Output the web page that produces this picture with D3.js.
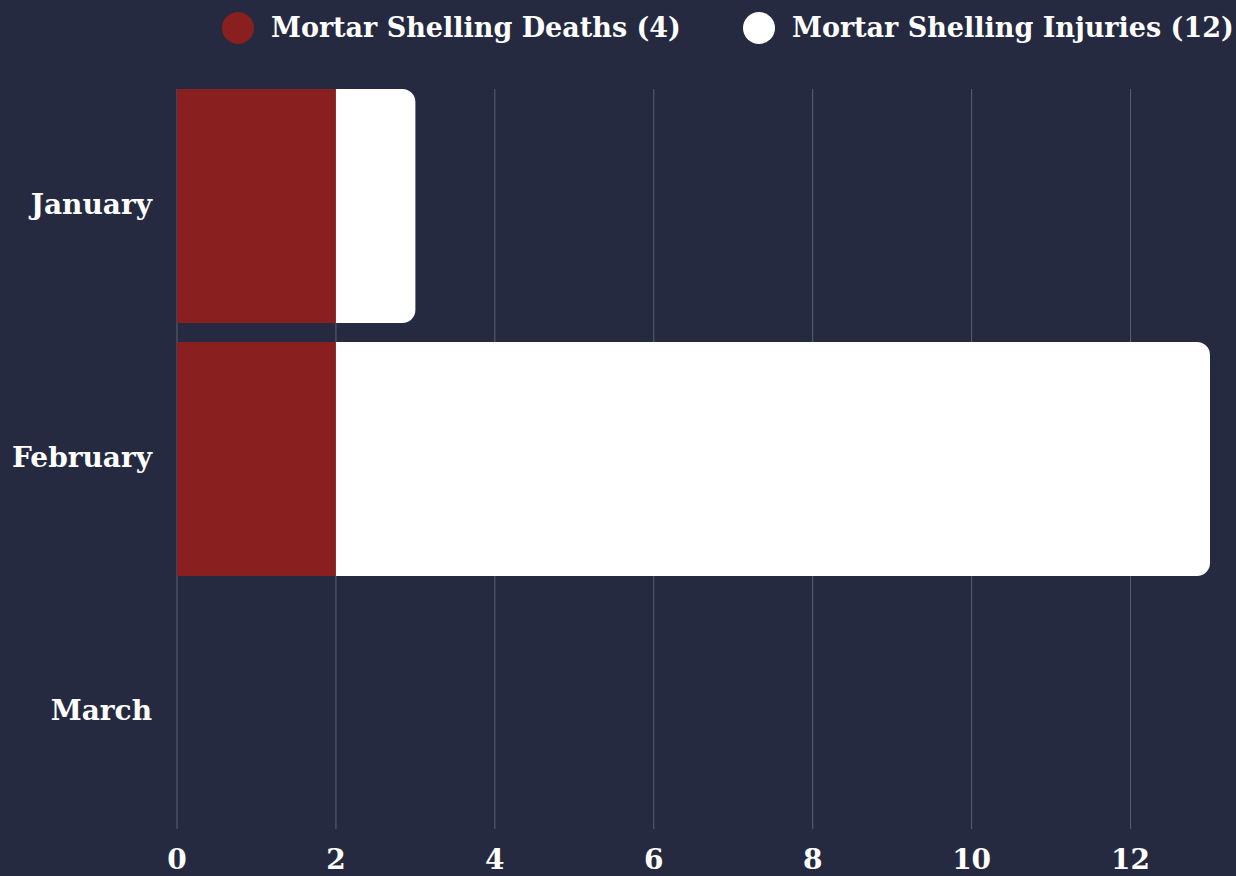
<!DOCTYPE html>
<html>
<head>
<meta charset="utf-8">
<style>
  body { margin: 0; background: #252a41; }
  svg { display: block; }
  text { font-family: "DejaVu Serif", serif; font-weight: bold; fill: #fff; }
</style>
</head>
<body>
<svg width="1236" height="876"></svg>
<script src="https://cdn.jsdelivr.net/npm/d3@7"></script>
<script>
// data
var months = ["January", "February", "March"];
var deaths = [2, 2, 0];
var injuries = [1, 11, 0];
var seriesNames = ["Mortar Shelling Deaths", "Mortar Shelling Injuries"];
var seriesColors = ["#8a1f1f", "#ffffff"];
var xTicks = [0, 2, 4, 6, 8, 10, 12];

var svg = d3.select("svg"),
    margin = {top: 89, right: 26, bottom: 47, left: 177},
    width = +svg.attr("width") - margin.left - margin.right,
    height = +svg.attr("height") - margin.top - margin.bottom,
    g = svg.append("g").attr("transform", "translate(" + margin.left + "," + margin.top + ")");

var data = months.map(function(m, i) {
  return {month: m, deaths: deaths[i], injuries: injuries[i]};
});

var x = d3.scaleLinear()
    .domain([0, 13])
    .range([0, width]);

var y = d3.scaleBand()
    .domain(months)
    .range([0, height])
    .paddingInner(0.075)
    .paddingOuter(0);

// grid
g.append("g")
    .selectAll("line")
    .data(xTicks)
    .enter().append("line")
      .attr("x1", function(d) { return x(d); })
      .attr("x2", function(d) { return x(d); })
      .attr("y1", 0)
      .attr("y2", height)
      .attr("stroke", "#5a6075")
      .attr("stroke-width", 1);

var stack = d3.stack().keys(["deaths", "injuries"]);
var series = stack(data);

// right end rounded only for the last segment of each bar
function barPath(x0, x1, y0, h, r) {
  var w = x1 - x0;
  r = Math.min(r, w, h / 2);
  if (r <= 0) return "M" + x0 + "," + y0 + "h" + w + "v" + h + "h" + (-w) + "Z";
  return "M" + x0 + "," + y0 +
    "H" + (x1 - r) +
    "A" + r + "," + r + " 0 0 1 " + x1 + "," + (y0 + r) +
    "V" + (y0 + h - r) +
    "A" + r + "," + r + " 0 0 1 " + (x1 - r) + "," + (y0 + h) +
    "H" + x0 + "Z";
}

series.forEach(function(s, si) {
  g.append("g")
    .attr("fill", seriesColors[si])
    .selectAll("path")
    .data(s.filter(function(d) { return d[1] > d[0]; }))
    .enter().append("path")
      .attr("d", function(d) {
        var last = si === series.length - 1;
        return barPath(x(d[0]), x(d[1]), y(d.data.month), y.bandwidth(), last ? 13 : 0);
      });
});

// y labels
g.append("g")
  .selectAll("text")
  .data(months)
  .enter().append("text")
    .attr("x", -25)
    .attr("y", function(d) { return y(d) + y.bandwidth() / 2; })
    .attr("dy", "0.3em")
    .attr("text-anchor", "end")
    .style("font-size", "28px")
    .text(function(d) { return d; });

// x axis labels
g.append("g")
  .selectAll("text")
  .data(xTicks)
  .enter().append("text")
    .attr("x", function(d) { return x(d); })
    .attr("y", height + 40)
    .attr("text-anchor", "middle")
    .style("font-size", "28px")
    .text(function(d) { return d; });

// legend
var totals = [d3.sum(deaths), d3.sum(injuries)];
var legendX = [238, 759];
var legend = svg.selectAll(".legend")
  .data(seriesNames)
  .enter().append("g")
    .attr("class", "legend")
    .attr("transform", function(d, i) { return "translate(" + legendX[i] + ",28)"; });

legend.append("circle")
    .attr("r", 16)
    .attr("fill", function(d, i) { return seriesColors[i]; });

legend.append("text")
    .attr("x", 33)
    .attr("dy", "0.35em")
    .style("font-size", "27px")
    .text(function(d, i) { return d + " (" + totals[i] + ")"; });
</script>
</body>
</html>
